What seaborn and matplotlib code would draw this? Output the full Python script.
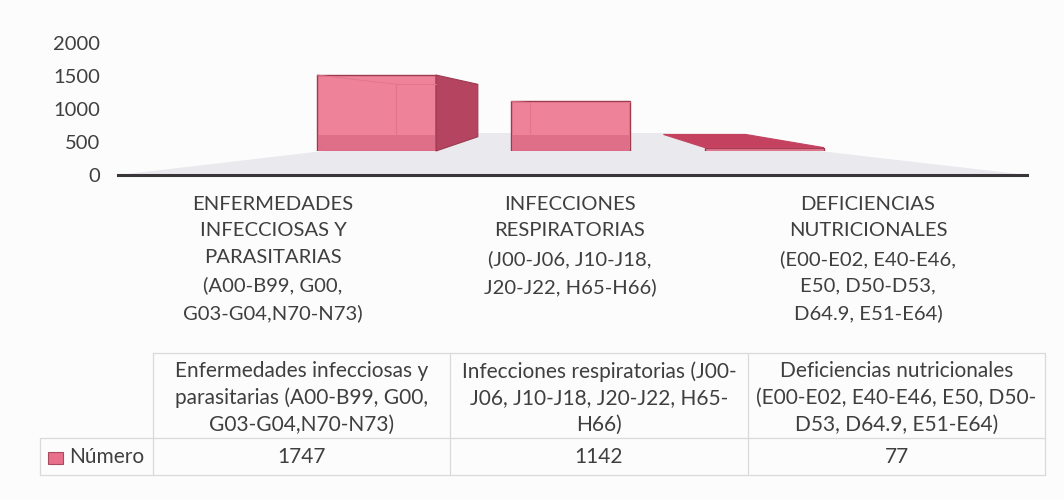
import pandas as pd
import matplotlib.pyplot as plt
from matplotlib.patches import Polygon, Rectangle
import seaborn as sns

sns.set_style('white')
plt.rcParams['font.family'] = ['Lato', 'DejaVu Sans']

# values
numero = [1747, 1142, 77]
categorias = [
    'ENFERMEDADES\nINFECCIOSAS Y\nPARASITARIAS\n(A00-B99, G00,\nG03-G04,N70-N73)',
    'INFECCIONES\nRESPIRATORIAS\n(J00-J06, J10-J18,\nJ20-J22, H65-H66)',
    'DEFICIENCIAS\nNUTRICIONALES\n(E00-E02, E40-E46,\nE50, D50-D53,\nD64.9, E51-E64)',
]
cabeceras = [
    'Enfermedades infecciosas y\nparasitarias (A00-B99, G00,\nG03-G04,N70-N73)',
    'Infecciones respiratorias (J00-\nJ06, J10-J18, J20-J22, H65-\nH66)',
    'Deficiencias nutricionales\n(E00-E02, E40-E46, E50, D50-\nD53, D64.9, E51-E64)',
]
y_ticks = [0, 500, 1000, 1500, 2000]
serie = 'Número'

W, H = 1064, 500
TXT = '#3f3f3f'
FRONT = '#ee8298'
BAND = '#dc6a84'
INNER = '#e4738c'
SIDE = '#b4445f'
EDGE = '#9c3a50'
TOP = '#c4425f'
FLOOR = '#e9e9ee'
GRID = '#dadada'

# perspective of the 3D box
VX, VY, K = 571, 105, 0.31


def px_axes(left, top, right, bottom):
    return [left / W, 1 - bottom / H, (right - left) / W, (bottom - top) / H]


fig = plt.figure(figsize=(W / 100, H / 100), dpi=100, facecolor='#fcfcfc')

# pixel layer for the floor and the table
back = fig.add_axes([0, 0, 1, 1], zorder=0)
back.set_xlim(0, W)
back.set_ylim(H, 0)
back.axis('off')
back.add_patch(Polygon([(118, 175), (1027, 175), (664, 133), (478, 133)], fc=FLOOR, ec='none'))

# value axis, floor line and category labels
ax = fig.add_axes(px_axes(118, 43, 1027, 175), zorder=1)
ax.patch.set_alpha(0)
ax.set_xlim(118, 1027)
ax.set_ylim(0, 2000)
ax.set_yticks(y_ticks)
ax.set_xticks([273, 570, 868])
ax.set_xticklabels(categorias, fontsize=14.6, color=TXT, linespacing=1.69, va='top')
ax.tick_params(axis='y', labelsize=14.5, labelcolor=TXT, length=0, pad=13)
ax.tick_params(axis='x', length=0, pad=15)
sns.despine(ax=ax, left=True)
ax.spines['bottom'].set_color('#3a3538')
ax.spines['bottom'].set_linewidth(2.2)

# front faces of the bars: real values on their own plane
bars = fig.add_axes(px_axes(118, 43, 1027, 151), zorder=2)
df = pd.DataFrame({'categoria': categorias, 'numero': numero})
sns.barplot(data=df, x='categoria', y='numero', color=FRONT, saturation=1, width=0.613,
            edgecolor=EDGE, linewidth=1, ax=bars)
bars.set_xlim(1 - (570.5 - 118) / 194, 1 + (1027 - 570.5) / 194)
bars.set_ylim(0, 108 / 0.0435)
bars.axis('off')

# box sides worked out from the drawn bars
over = fig.add_axes([0, 0, 1, 1], zorder=3)
over.set_xlim(0, W)
over.set_ylim(H, 0)
over.axis('off')


def depth(x, y):
    return x + K * (VX - x), y + K * (VY - y)


fig.canvas.draw()
for p in bars.patches:
    bb = p.get_window_extent()
    x0, x1, yt, yb = bb.x0, bb.x1, H - bb.y1, H - bb.y0
    bx0, byt = depth(x0, yt)
    bx1, byb = depth(x1, yb)
    # floor seen through the front face
    if yb - yt > 20:
        over.add_patch(Rectangle((x0 + 0.5, 135), x1 - x0 - 1, yb - 135.5, fc=BAND, ec='none', alpha=0.8))
        over.plot([bx0, bx0], [byt, 135], color=INNER, lw=0.9)
        over.plot([bx0, x1], [byt, byt], color=INNER, lw=0.7)
        over.plot([x0, bx0], [yt, byt], color=INNER, lw=0.6)
    if x1 < VX - 60:
        over.add_patch(Polygon([(x1, yt), depth(x1, yt), depth(x1, yb), (x1, yb)], fc=SIDE, ec=EDGE, lw=0.8))
    if x0 > VX and yt > VY:
        over.add_patch(Polygon([(x0, yt), (x1, yt), (bx1, byt), (bx0, byt)], fc=TOP, ec=TOP, lw=0.8))

# data table
for x in [153, 450, 748, 1045]:
    back.plot([x, x], [353, 475], color=GRID, lw=0.9)
back.plot([153, 1045], [353, 353], color=GRID, lw=0.9)
back.plot([40, 1045], [438, 438], color=GRID, lw=0.9)
back.plot([40, 1045], [475, 475], color=GRID, lw=0.9)
back.plot([40, 40], [438, 475], color=GRID, lw=0.9)
back.add_patch(Rectangle((48, 452), 15, 12, fc='#e8708a', ec='#a84a60', lw=0.8))
back.text(69, 457, serie, fontsize=15, color=TXT, va='center', ha='left')
for cx, cab, n in zip([301.5, 599, 896.5], cabeceras, numero):
    back.text(cx, 398, cab, fontsize=15, color=TXT, ha='center', va='center', linespacing=1.42)
    back.text(cx, 457, str(n), fontsize=15, color=TXT, ha='center', va='center')

fig.savefig('out.png', dpi=100, facecolor=fig.get_facecolor())
